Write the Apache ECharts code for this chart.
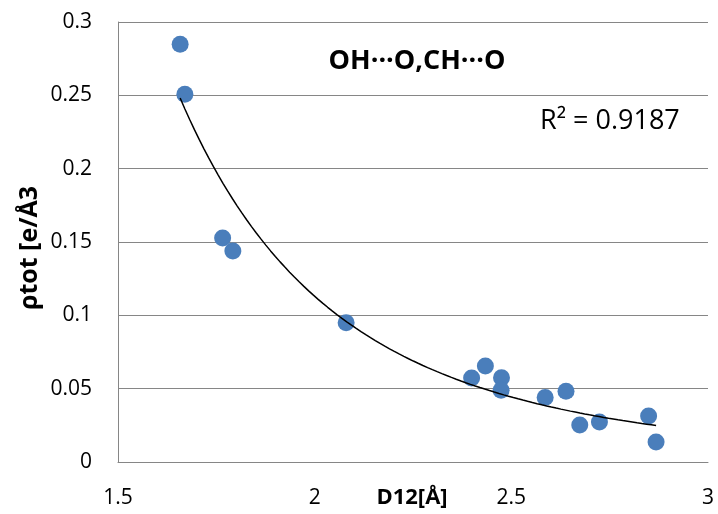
<!DOCTYPE html>
<html>
<head>
<meta charset="utf-8">
<script src="https://cdn.jsdelivr.net/npm/echarts@6/dist/echarts.min.js"></script>
<style>
html,body{margin:0;padding:0;background:#fff;}
#c{width:718px;height:514px;}
</style>
</head>
<body>
<div id="c"></div>
<script>
// D12 [Å] values
var xValues = [1.658, 1.670, 1.766, 1.792, 2.080, 2.399, 2.434, 2.475, 2.474, 2.586, 2.639, 2.674, 2.724, 2.849, 2.868];
// ρtot [e/Å3] values
var yValues = [0.2848, 0.2507, 0.1527, 0.1439, 0.0950, 0.0573, 0.0655, 0.0575, 0.0489, 0.0439, 0.0482, 0.0252, 0.0273, 0.0314, 0.0136];
var xTicks = [1.5, 2, 2.5, 3];
var yTicks = [0, 0.05, 0.1, 0.15, 0.2, 0.25, 0.3];
var titleText = 'OH\u00B7\u00B7\u00B7O,CH\u00B7\u00B7\u00B7O';
var r2Text = 'R\u00B2 = 0.9187';
var xName = 'D12[\u00C5]';
var yName = '\u03C1tot [e/\u00C53';

var pts = xValues.map(function(x, i){ return [x, yValues[i]]; });

// Power trendline (least squares in log space, like Excel)
var n = pts.length, sx=0, sy=0, sxx=0, sxy=0;
pts.forEach(function(p){ var lx=Math.log(p[0]), ly=Math.log(p[1]); sx+=lx; sy+=ly; sxx+=lx*lx; sxy+=lx*ly; });
var b = (n*sxy - sx*sy)/(n*sxx - sx*sx);
var a = Math.exp((sy - b*sx)/n);
var xmin = Math.min.apply(null, xValues), xmax = Math.max.apply(null, xValues);
var trend = [];
for (var k=0;k<=100;k++){ var x = xmin + (xmax-xmin)*k/100; trend.push([x, a*Math.pow(x,b)]); }

var font = 'Open Sans';
var chart = echarts.init(document.getElementById('c'));
chart.setOption({
  animation: false,
  backgroundColor: '#fff',
  textStyle: { fontFamily: font },
  grid: { left: 118, right: 10, top: 22, bottom: 52, containLabel: false, outerBoundsMode: 'none' },
  title: {
    text: titleText, left: 412, top: 43, textAlign: 'center',
    textStyle: { fontFamily: font, fontSize: 27, fontWeight: 'bold', color: '#000' }
  },
  graphic: [
    { type: 'text', left: 540, top: 108, style: { text: r2Text, font: '27px "Open Sans"', fill: '#000' } },
    { type: 'text', x: 30, y: 248, rotation: Math.PI/2, style: { text: yName, font: 'bold 25px "Open Sans"', fill: '#000', align: 'center', verticalAlign: 'middle' } },
    { type: 'text', x: 412, y: 498, style: { text: xName, font: 'bold 22px "Open Sans"', fill: '#000', align: 'center', verticalAlign: 'middle' } }
  ],
  xAxis: {
    type: 'value', min: 1.5, max: 3, interval: 0.5,
    axisLine: { show: true, lineStyle: { color: '#868686', width: 1 } },
    axisTick: { show: false },
    splitLine: { show: false },
    axisLabel: { fontFamily: font, fontSize: 21, color: '#000', margin: 26,
      formatter: function(v){ return xTicks.indexOf(v) >= 0 ? String(v) : ''; } }
  },
  yAxis: {
    type: 'value', min: 0, max: 0.3, interval: 0.05,
    axisLine: { show: true, lineStyle: { color: '#868686', width: 1 } },
    axisTick: { show: false },
    splitLine: { show: true, lineStyle: { color: '#868686', width: 1 } },
    axisLabel: { fontFamily: font, fontSize: 21, color: '#000', margin: 26,
      formatter: function(v){ var r = Math.round(v*100)/100; return yTicks.indexOf(r) >= 0 ? String(r) : ''; } }
  },
  series: [
    { type: 'line', data: trend, showSymbol: false, symbol: 'none', lineStyle: { color: '#000', width: 1.5 }, z: 3, silent: true },
    { type: 'scatter', data: pts, symbol: 'circle', symbolSize: 17, itemStyle: { color: '#4A7EBB', opacity: 1 }, z: 2 }
  ]
});
</script>
</body>
</html>
